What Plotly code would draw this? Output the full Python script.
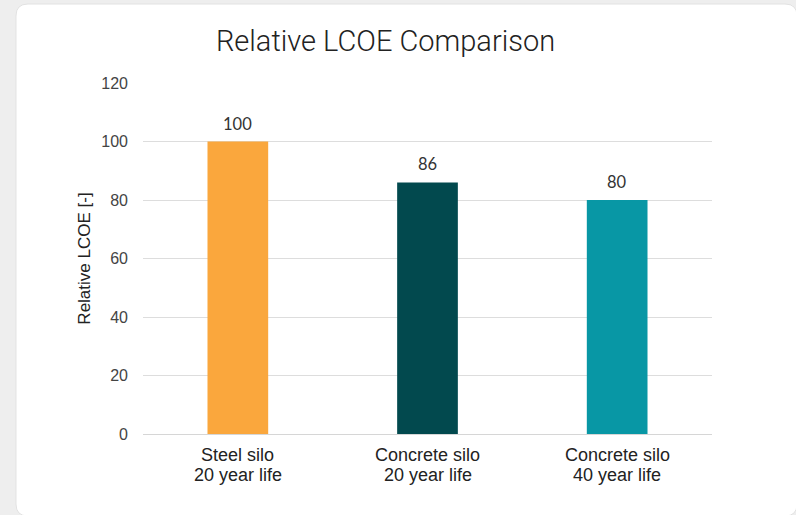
import plotly.graph_objects as go

# Chart data
categories = ["Steel silo<br>20 year life", "Concrete silo<br>20 year life", "Concrete silo<br>40 year life"]
relative_lcoe = [100, 86, 80]
bar_colors = ["#FAA73D", "#02494E", "#0897A5"]
y_ticks = [0, 20, 40, 60, 80, 100, 120]

W, H = 796, 515
L, R, T, B = 143, 84, 83, 81
pw, ph = W - L - R, H - T - B


def px_to_paper(x, y):
    return (x - L) / pw, (H - B - y) / ph


def rounded_rect(x0, y0, x1, y1, r):
    def p(x, y):
        a, b = px_to_paper(x, y)
        return f"{a:.5f},{b:.5f}"
    return (
        f"M {p(x0 + r, y0)} L {p(x1 - r, y0)} Q {p(x1, y0)} {p(x1, y0 + r)} "
        f"L {p(x1, y1 - r)} Q {p(x1, y1)} {p(x1 - r, y1)} "
        f"L {p(x0 + r, y1)} Q {p(x0, y1)} {p(x0, y1 - r)} "
        f"L {p(x0, y0 + r)} Q {p(x0, y0)} {p(x0 + r, y0)} Z"
    )


fig = go.Figure(
    go.Bar(
        x=categories,
        y=relative_lcoe,
        marker=dict(color=bar_colors, line=dict(width=0)),
        width=0.32,
    )
)

# value labels above each bar
for cat, val in zip(categories, relative_lcoe):
    fig.add_annotation(
        x=cat,
        y=val,
        xref="x",
        yref="y",
        text=str(val),
        showarrow=False,
        yanchor="bottom",
        yshift=6,
        font=dict(family="Lato", size=16.5, color="#333333"),
    )

# white card on a light grey page
fig.add_shape(
    type="path",
    xref="paper",
    yref="paper",
    path=rounded_rect(16, 4, 797, 516, 12),
    fillcolor="white",
    line=dict(color="#e2e2e2", width=1),
    layer="below",
)

# category labels, two tightly spaced lines under each bar
for cat in categories:
    for i, line in enumerate(cat.split("<br>")):
        fig.add_annotation(
            x=cat,
            xref="x",
            y=0,
            yref="paper",
            text=line,
            showarrow=False,
            yanchor="middle",
            yshift=-21 - 19.5 * i,
            font=dict(family="Liberation Sans", size=18, color="#222222"),
        )

fig.update_layout(
    width=W,
    height=H,
    margin=dict(l=L, r=R, t=T, b=B),
    paper_bgcolor="#eeeeee",
    plot_bgcolor="rgba(0,0,0,0)",
    showlegend=False,
    title=dict(
        text="Relative LCOE Comparison",
        x=385.5 / W,
        xanchor="center",
        y=1 - 41 / H,
        yanchor="middle",
        font=dict(family="Roboto", size=29, color="#222222", weight=300),
    ),
    xaxis=dict(
        showgrid=False,
        showline=False,
        zeroline=False,
        showticklabels=False,
        ticks="",
    ),
    yaxis=dict(
        range=[0, 120],
        tickvals=y_ticks,
        showgrid=True,
        gridcolor="#dddddd",
        gridwidth=1,
        zeroline=True,
        zerolinecolor="#d6d6d6",
        zerolinewidth=1,
        showline=False,
        ticks="",
        tickfont=dict(family="Liberation Sans", size=16, color="#444444"),
        ticklabelstandoff=14,
        title=dict(
            text="Relative LCOE [-]",
            font=dict(family="Liberation Sans", size=17, color="#222222"),
            standoff=6,
        ),
    ),
)

fig.write_html("out.html")
